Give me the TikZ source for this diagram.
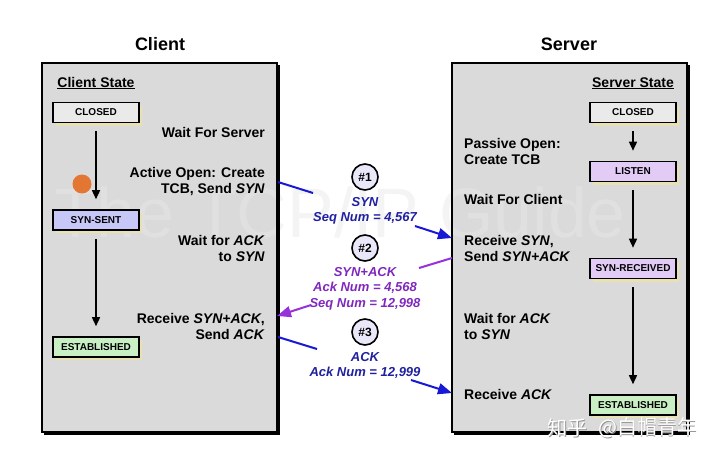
\documentclass[tikz,border=0pt]{standalone}
\usepackage{fontspec}
\setmainfont{Liberation Sans}
\newfontfamily\cjkfont{Noto Sans CJK SC}
\usetikzlibrary{arrows.meta,calc,shadows}
\definecolor{boxgray}{RGB}{218,218,218}
\definecolor{closedfill}{RGB}{234,234,234}
\definecolor{sentfill}{RGB}{200,200,248}
\definecolor{listenfill}{RGB}{226,204,246}
\definecolor{estfill}{RGB}{200,240,196}
\definecolor{shadowbeige}{RGB}{232,225,180}
\definecolor{msgblue}{RGB}{32,32,160}
\definecolor{msgpurple}{RGB}{128,40,190}
\definecolor{arrblue}{RGB}{24,24,215}
\definecolor{arrpurple}{RGB}{150,50,220}
\definecolor{circfill}{RGB}{232,232,248}
\definecolor{wmgray}{RGB}{232,232,232}
\definecolor{dotorange}{RGB}{228,118,52}
\definecolor{cjkshade}{RGB}{150,150,150}
\begin{document}
\begin{tikzpicture}[x=1pt,y=-1pt,
  sysbox/.style={fill=boxgray, minimum width=235pt, minimum height=369pt, inner sep=0pt, outer sep=0pt, anchor=north west},
  sysborder/.style={draw=black, line width=2pt},
  sysshadow/.style={draw=black, line width=2.5pt},
  statebox/.style={draw=black, line width=1.6pt, minimum width=86pt, minimum height=20pt, inner sep=0pt,
    font=\fontsize{10}{12}\selectfont\bfseries,
    drop shadow={shadow xshift=3pt, shadow yshift=-3pt, fill=shadowbeige, opacity=1}},
  flow/.style={-{Triangle[length=9pt,width=8pt]}, line width=1.5pt, shorten <=8pt, shorten >=10pt},
  title/.style={font=\fontsize{18}{20}\selectfont\bfseries, inner sep=0pt},
  heading/.style={font=\fontsize{14}{16}\selectfont\bfseries, inner sep=0pt, anchor=base},
  desc/.style={font=\fontsize{14}{16}\selectfont\bfseries, inner sep=0pt},
  msg/.style={font=\fontsize{13}{15.5}\selectfont\bfseries\itshape, inner sep=0pt, align=center, anchor=north},
  stepcirc/.style={circle, draw=black, line width=1.6pt, fill=circfill, minimum size=26pt, inner sep=0pt,
    font=\fontsize{12}{12}\selectfont\bfseries},
  msgarrow/.style={line width=2pt, -{Triangle[length=14pt,width=11pt]}},
  cjkmark/.style={font=\cjkfont\fontsize{20}{20}\selectfont, anchor=west, inner sep=0pt}
]
\useasboundingbox (0,0) rectangle (720,456);
\fill[white] (0,0) rectangle (720,456);

% system boxes (fill)
\node[sysbox] (client) at (42,63) {};
\node[sysbox] (server) at (452,63) {};

% faint watermark
\node[font=\fontsize{70}{70}\selectfont, text=wmgray, opacity=0.45, inner sep=0pt] (wm) at (340,212) {The TCP/IP Guide};

% system box borders
\draw[sysborder] (client.north west) rectangle (client.south east);
\draw[sysshadow] ($(client.north east)+(1.5,2)$) -- ($(client.south east)+(1.5,1.5)$) -- ($(client.south west)+(2,1.5)$);
\draw[sysborder] (server.north west) rectangle (server.south east);
\draw[sysshadow] ($(server.north east)+(1.5,2)$) -- ($(server.south east)+(1.5,1.5)$) -- ($(server.south west)+(2,1.5)$);

% titles
\node[title] (ctitle) at (160,44) {Client};
\node[title] (stitle) at (569,44) {Server};
\node[heading] (cstate) at (96,87) {\underline{Client State}};
\node[heading] (sstate) at (633,87) {\underline{Server State}};

% client states
\node[statebox, fill=closedfill] (cclosed) at (96,112.5) {CLOSED};
\node[statebox, fill=sentfill] (csent) at (96,220) {SYN-SENT};
\node[statebox, fill=estfill] (cest) at (96,347) {ESTABLISHED};
\draw[flow] (cclosed) -- (csent);
\draw[flow] (csent) -- (cest);

% server states
\node[statebox, fill=closedfill] (sclosed) at (633,112.5) {CLOSED};
\node[statebox, fill=listenfill] (slisten) at (633,171.5) {LISTEN};
\node[statebox, fill=listenfill] (srecv) at (633,268.5) {SYN-RECEIVED};
\node[statebox, fill=estfill] (sest) at (633,405) {ESTABLISHED};
\draw[flow] (sclosed) -- (slisten);
\draw[flow] (slisten) -- (srecv);
\draw[flow] (srecv) -- (sest);

% client descriptions
\node[desc, anchor=north east] (c1) at (265,127) {Wait For Server};
\node[desc, anchor=north east, align=right] (c2) at (265,167) {Active Open: Create\\TCB, Send \textit{SYN}};
\node[desc, anchor=north east, align=right] (c3) at (265,235) {Wait for \textit{ACK}\\to \textit{SYN}};
\node[desc, anchor=north east, align=right] (c4) at (265,313) {Receive \textit{SYN+ACK},\\Send \textit{ACK}};

% server descriptions
\node[desc, anchor=north west, align=left] (s1) at (464,138) {Passive Open:\\Create TCB};
\node[desc, anchor=north west] (s2) at (464,194) {Wait For Client};
\node[desc, anchor=north west, align=left] (s3) at (464,235) {Receive \textit{SYN},\\Send \textit{SYN+ACK}};
\node[desc, anchor=north west, align=left] (s4) at (464,313) {Wait for \textit{ACK}\\to \textit{SYN}};
\node[desc, anchor=north west] (s5) at (464,389) {Receive \textit{ACK}};

% messages
\node[stepcirc] (n1) at (365,177) {\#1};
\node[msg, text=msgblue] (m1) at (365,197) {SYN\\Seq Num = 4,567};
\node[stepcirc] (n2) at (365,248) {\#2};
\node[msg, text=msgpurple] (m2) at (365,267) {SYN+ACK\\Ack Num = 4,568\\Seq Num = 12,998};
\node[stepcirc] (n3) at (365,332) {\#3};
\node[msg, text=msgblue] (m3) at (365,352) {ACK\\Ack Num = 12,999};

% message arrows
\coordinate (a1s) at (278,182);
\coordinate (a1m) at (313,193);
\coordinate (a1r) at (415,226);
\coordinate (a1e) at (452,238);
\draw[arrblue, line width=2pt] (a1s) -- (a1m);
\draw[arrblue, msgarrow] (a1r) -- (a1e);

\coordinate (a2s) at (452,258);
\coordinate (a2m) at (419,268);
\coordinate (a2r) at (311,305);
\coordinate (a2e) at (277,316);
\draw[arrpurple, line width=2pt] (a2s) -- (a2m);
\draw[arrpurple, msgarrow] (a2r) -- (a2e);

\coordinate (a3s) at (278,337);
\coordinate (a3m) at (317,349);
\coordinate (a3r) at (411,380);
\coordinate (a3e) at (452,393);
\draw[arrblue, line width=2pt] (a3s) -- (a3m);
\draw[arrblue, msgarrow] (a3r) -- (a3e);

% cursor dot
\fill[dotorange] (82,184) circle (9.5);

% corner watermark
\node[cjkmark, text=cjkshade] at (547.8,428.8) {知乎};
\node[cjkmark, text=cjkshade] at (598.8,428.8) {@白帽青年};
\node[cjkmark, text=white] (zh1) at (547,428) {知乎};
\node[cjkmark, text=white] (zh2) at (598,428) {@白帽青年};
\end{tikzpicture}
\end{document}
